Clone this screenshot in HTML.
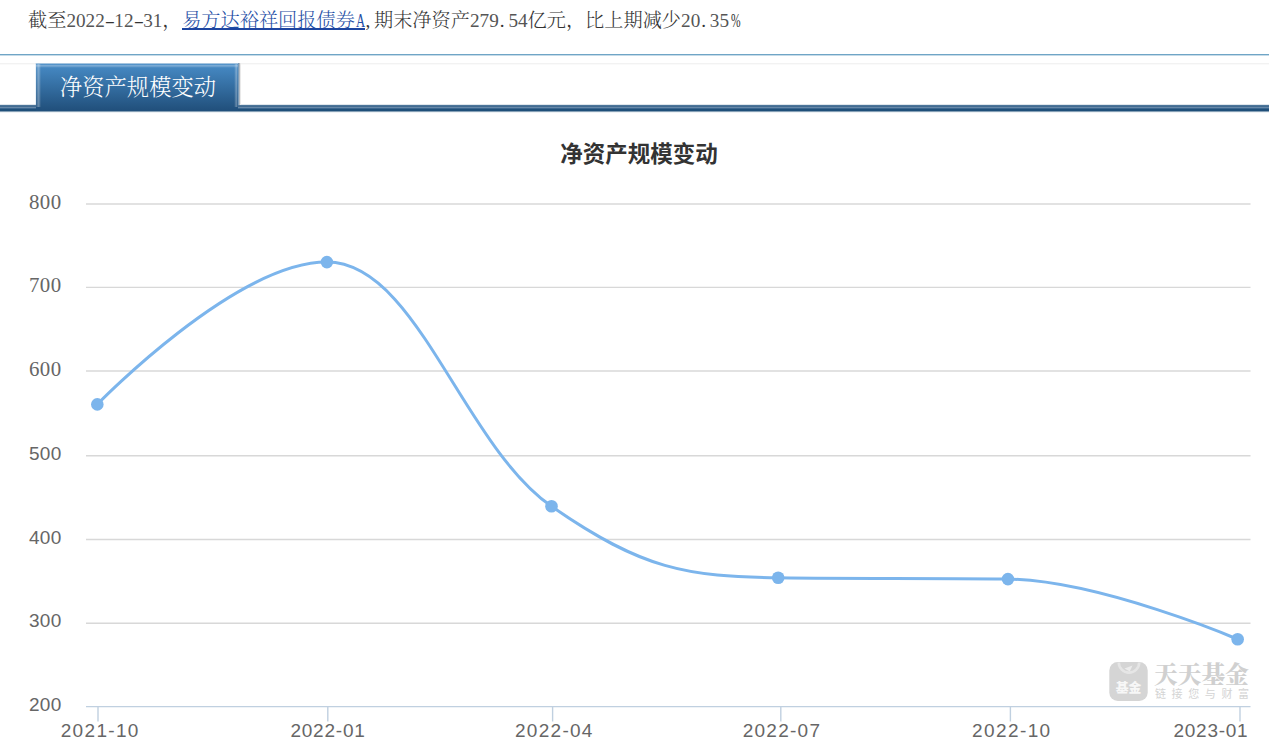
<!DOCTYPE html>
<html>
<head>
<meta charset="utf-8">
<style>
html,body{margin:0;padding:0;background:#fff;}
body{width:1269px;height:750px;overflow:hidden;position:relative;}
.song{font-family:"Liberation Serif","Noto Serif CJK SC",serif;}
#info{font-weight:300;}
#info .d{color:#555;}
#info{position:absolute;left:28px;top:9px;font-size:19.2px;line-height:24px;color:#333;white-space:nowrap;}
#info a{color:#1f4fa6;text-decoration:none;margin-left:0.7px;position:relative;}
#info a:after{content:"";position:absolute;left:0;right:-0.8px;top:18px;height:1.8px;background:#1d45a0;}
#info .h{display:inline-block;width:9.6px;text-align:left;text-indent:1px;}
#info .hy{display:inline-block;width:9.6px;text-align:center;transform:scaleX(1.6);}
#info .hA{display:inline-block;width:9.6px;text-align:center;transform:scaleX(0.66) translateX(-1px);}
#info .pc{display:inline-block;width:9.6px;text-align:center;transform:scaleX(0.6);}
#topline{position:absolute;left:0;top:54px;width:1269px;height:2px;background:linear-gradient(#6fa5c6 0,#6fa5c6 1px,#c6dbe8 1px,#c6dbe8 2px);}
#faint{position:absolute;left:0;top:63px;width:1269px;height:2px;background:linear-gradient(#f2f2f2 0,#f2f2f2 1px,#fafafa 1px,#fafafa 2px);}
#band{position:absolute;left:0;top:104px;width:1269px;height:9px;
  background:linear-gradient(#dfe6ec 0,#dfe6ec 1px,#4b7499 1px,#4b7499 2px,#426b91 2px,#426b91 3px,#6688a8 3px,#6688a8 4px,#3a6690 4px,#3a6690 5px,#1f4f79 5px,#1f4f79 7px,#86a0b6 7px,#86a0b6 8px,#eef2f5 8px,#eef2f5 9px);}
#tab{position:absolute;left:36px;top:64px;width:202px;height:47px;
  background:linear-gradient(#478bc6 0,#21507c 46px,#21507c 47px);}
#tab .s{position:absolute;}
#tab .t{position:absolute;left:1px;width:202px;top:10.5px;font-weight:300;text-align:center;color:#fff;font-size:22.3px;line-height:26px;}
#tabedge{position:absolute;left:36px;top:63px;width:202px;height:1px;background:rgba(74,141,200,0.45);}
#tabedge2{position:absolute;left:35px;top:63px;width:1px;height:42px;background:rgba(74,141,200,0.12);}
#tabshadow{position:absolute;left:238px;top:63px;width:3px;height:42px;background:linear-gradient(90deg,#7a9cba 0,#7a9cba 1px,#b0b8c0 1px,#b0b8c0 2px,#e9e9e9 2px,#e9e9e9 3px);}
#chart{position:absolute;left:0;top:0;}
</style>
</head>
<body>
<div id="info" class="song">截至<span class="d">2022</span><span class="hy">-</span><span class="d">12</span><span class="hy">-</span><span class="d">31</span>，<a class="song">易方达裕祥回报债券<span class="hA">A</span></a><span class="h">,</span>期末净资产<span class="d">279</span><span class="h">.</span><span class="d">54</span>亿元，比上期减少<span class="d">20</span><span class="h">.</span><span class="d">35</span><span class="pc">%</span></div>
<div id="topline"></div>
<div id="faint"></div>
<div id="band"></div>
<div id="tabedge"></div><div id="tabedge2"></div><div id="tab"><div class="s" style="left:0px;top:0;width:1px;height:43px;background:rgba(255,255,255,0.11)"></div><div class="s" style="left:1px;top:0;width:1px;height:43px;background:rgba(255,255,255,0.21)"></div><div class="s" style="left:2px;top:0;width:1px;height:43px;background:rgba(255,255,255,0.3)"></div><div class="s" style="left:3px;top:0;width:1px;height:43px;background:rgba(255,255,255,0.21)"></div><div class="s" style="left:4px;top:0;width:1px;height:43px;background:rgba(255,255,255,0.07)"></div><div class="s" style="left:0;top:0px;width:202px;height:1px;background:rgba(255,255,255,0.08)"></div><div class="s" style="left:0;top:1px;width:202px;height:1px;background:rgba(255,255,255,0.28)"></div><div class="s" style="left:0;top:2px;width:202px;height:1px;background:rgba(255,255,255,0.2)"></div><div class="s" style="left:0;top:3px;width:202px;height:1px;background:rgba(255,255,255,0.05)"></div><div class="s" style="left:198px;top:0;width:1px;height:43px;background:rgba(255,255,255,0.05)"></div><div class="s" style="left:199px;top:0;width:1px;height:43px;background:rgba(255,255,255,0.2)"></div><div class="s" style="left:200px;top:0;width:1px;height:43px;background:rgba(255,255,255,0.28)"></div><div class="s" style="left:201px;top:0;width:1px;height:43px;background:rgba(255,255,255,0.1)"></div><div class="t song">净资产规模变动</div></div><div id="tabshadow"></div>

<svg id="chart" width="1269" height="750">
  <text x="639" y="162" text-anchor="middle" font-family="'Liberation Sans','Noto Sans CJK SC',sans-serif" font-weight="bold" font-size="22.5" fill="#333">净资产规模变动</text>
  <g stroke="#d8d8d8" stroke-width="1.4">
    <line x1="86" x2="1250.5" y1="204.0" y2="204.0"/>
    <line x1="86" x2="1250.5" y1="287.4" y2="287.4"/>
    <line x1="86" x2="1250.5" y1="371.0" y2="371.0"/>
    <line x1="86" x2="1250.5" y1="455.7" y2="455.7"/>
    <line x1="86" x2="1250.5" y1="539.5" y2="539.5"/>
    <line x1="86" x2="1250.5" y1="623.2" y2="623.2"/>
  </g>
  <g stroke="#c0d0e0" stroke-width="1.4">
    <line x1="86" x2="1250.5" y1="706.6" y2="706.6"/>
    <line x1="98" x2="98" y1="706.6" y2="721.5"/>
    <line x1="327.8" x2="327.8" y1="706.6" y2="721.5"/>
    <line x1="552.6" x2="552.6" y1="706.6" y2="721.5"/>
    <line x1="780.8" x2="780.8" y1="706.6" y2="721.5"/>
    <line x1="1010.4" x2="1010.4" y1="706.6" y2="721.5"/>
    <line x1="1240.0" x2="1240.0" y1="706.6" y2="721.5"/>
  </g>
  <g font-family="'Liberation Sans',sans-serif" font-size="19" letter-spacing="0.4" fill="#666" text-anchor="end">
    <text x="29" y="208.8" text-anchor="start" font-family="'Liberation Serif',serif" font-size="20" textLength="32.6" lengthAdjust="spacingAndGlyphs">800</text>
    <text x="29" y="292.2" text-anchor="start" font-family="'Liberation Serif',serif" font-size="20" textLength="32.6" lengthAdjust="spacingAndGlyphs">700</text>
    <text x="29" y="375.8" text-anchor="start" font-family="'Liberation Serif',serif" font-size="20" textLength="32.6" lengthAdjust="spacingAndGlyphs">600</text>
    <text x="61.8" y="459.7">500</text>
    <text x="61.8" y="543.5">400</text>
    <text x="61.8" y="627.2">300</text>
    <text x="61.8" y="710.6">200</text>
  </g>
  <g font-family="'Liberation Sans',sans-serif" font-size="19" fill="#666">
    <text x="60.7" y="736.6" textLength="77.7" lengthAdjust="spacing">2021-10</text>
    <text x="290.4" y="736.6" textLength="74.5" lengthAdjust="spacing">2022-01</text>
    <text x="515.0" y="736.6" textLength="77.4" lengthAdjust="spacing">2022-04</text>
    <text x="742.7" y="736.6" textLength="77.3" lengthAdjust="spacing">2022-07</text>
    <text x="972.0" y="736.6" textLength="78.2" lengthAdjust="spacing">2022-10</text>
    <text x="1173.5" y="736.6" textLength="74.2" lengthAdjust="spacing">2023-01</text>
  </g>
  <!-- watermark -->
  <g>
    <rect x="1109.3" y="662" width="38.4" height="39" rx="8.5" fill="#d5d5d5"/>
    <path d="M1118.8 662.5 A10.2 10.2 0 0 0 1139.2 662.5" fill="none" stroke="#e6e6e6" stroke-width="2.6"/>
    <path d="M1124.5 668.5 L1132.5 665.5 L1129.8 671.5 Z" fill="#ececec"/>
    <text x="1128.5" y="691.6" text-anchor="middle" font-family="'Noto Sans CJK SC',sans-serif" font-weight="900" font-size="12.8" fill="#f7f7f7">基金</text>
    <text x="1154" y="682.6" font-family="'Noto Serif CJK SC',serif" font-weight="900" font-size="23.6" letter-spacing="0.1" fill="#d0d0d0">天天基金</text>
    <text x="1155" y="698" font-family="'Noto Sans CJK SC',sans-serif" font-size="11" letter-spacing="5.6" fill="#d4d4d4">链接您与财富</text>
  </g>
  <path d="M 97.30 404.40 C 97.30 404.40 235.06 262.10 326.90 262.10 C 416.74 262.10 461.66 443.45 551.50 506.30 C 642.18 569.73 687.52 576.50 778.20 577.80 C 870.10 579.10 916.05 577.80 1007.95 579.10 C 1099.83 580.40 1237.65 639.25 1237.65 639.25" fill="none" stroke="#7cb5ec" stroke-width="3" stroke-linejoin="round" stroke-linecap="round"/>
  <g fill="#7cb5ec">
    <circle cx="97.3" cy="404.4" r="6.3"/>
    <circle cx="326.9" cy="262.1" r="6.3"/>
    <circle cx="551.5" cy="506.3" r="6.3"/>
    <circle cx="778.2" cy="577.8" r="6.3"/>
    <circle cx="1007.95" cy="579.1" r="6.3"/>
    <circle cx="1237.65" cy="639.25" r="6.3"/>
  </g>
</svg>
</body>
</html>
